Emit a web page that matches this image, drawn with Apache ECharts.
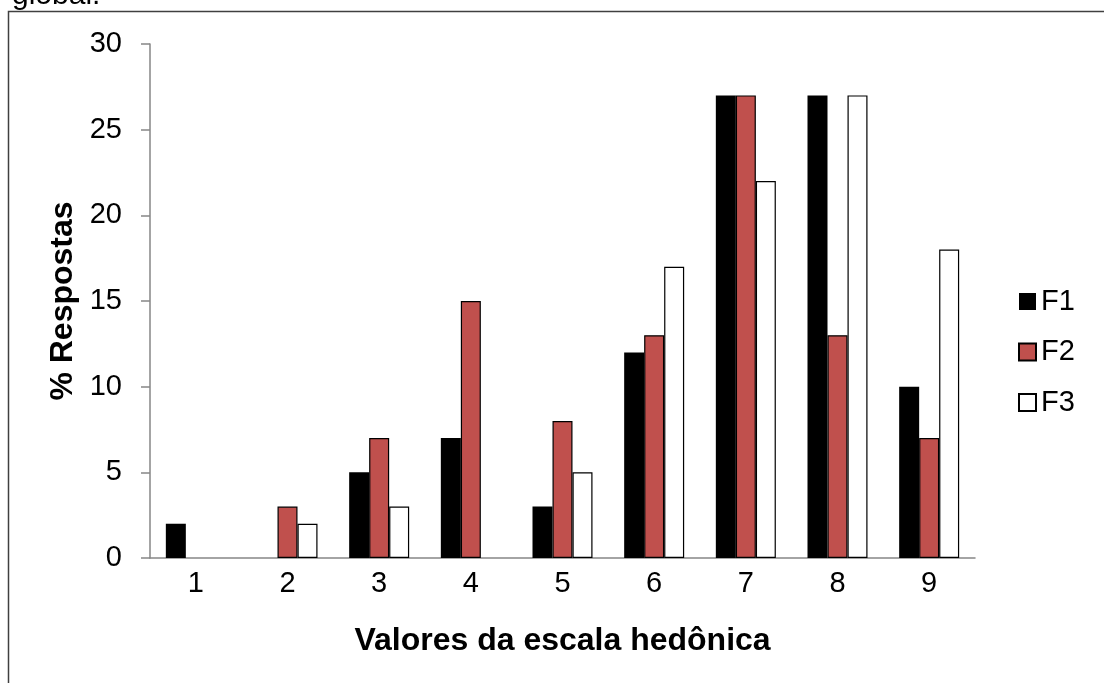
<!DOCTYPE html>
<html>
<head>
<meta charset="utf-8">
<script src="https://cdn.jsdelivr.net/npm/echarts@6/dist/echarts.min.js"></script>
<style>
  html, body { margin: 0; padding: 0; background: #fff; }
  #chart { width: 1104px; height: 683px; }
</style>
</head>
<body>
<div id="chart"></div>
<script>
// Hedonic scale values (1 to 9) and share of responses per formulation
const categories = ['1', '2', '3', '4', '5', '6', '7', '8', '9'];
const f1 = [2, 0, 5, 7, 3, 12, 27, 27, 10];
const f2 = [0, 3, 7, 15, 8, 13, 27, 13, 7];
const f3 = [0, 2, 3, 0, 5, 17, 22, 27, 18];
const yTicks = { min: 0, max: 30, interval: 5 };

const FONT = '"Liberation Sans", Arial, Helvetica, sans-serif';
const AXIS_GRAY = '#868686';

const chart = echarts.init(document.getElementById('chart'), null, { renderer: 'canvas' });

// Empty categories get no outline, so a zero share leaves no mark
function barItems(values) {
  return values.map(v => v === 0 ? { value: v, itemStyle: { borderWidth: 0, opacity: 0 } } : v);
}

function barSeries(name, data, fill, border) {
  return {
    name: name,
    type: 'bar',
    data: barItems(data),
    barWidth: 20,
    barGap: '0%',
    itemStyle: { color: fill, borderColor: '#000', borderWidth: border },
    emphasis: { disabled: true }
  };
}

chart.setOption({
  animation: false,
  backgroundColor: '#fff',
  textStyle: { fontFamily: FONT },
  grid: { left: 150, right: 129, top: 44, bottom: 125 },
  legend: {
    orient: 'vertical',
    left: 1013,
    top: 282,
    itemWidth: 17,
    itemHeight: 17,
    itemGap: 21.5,
    icon: 'rect',
    selectedMode: false,
    textStyle: { fontFamily: FONT, fontSize: 29, color: '#000', lineHeight: 29 },
    data: ['F1', 'F2', 'F3']
  },
  xAxis: {
    type: 'category',
    data: categories,
    name: 'Valores da escala hedônica',
    nameLocation: 'middle',
    nameGap: 67,
    nameTextStyle: { fontFamily: FONT, fontSize: 32, fontWeight: 'bold', color: '#000' },
    axisLine: { lineStyle: { color: AXIS_GRAY, width: 1.5 } },
    axisTick: { length: 9, lineStyle: { color: AXIS_GRAY, width: 1.5 } },
    axisLabel: { fontFamily: FONT, fontSize: 29, color: '#000', margin: 11 },
    splitLine: { show: false }
  },
  yAxis: {
    type: 'value',
    min: yTicks.min,
    max: yTicks.max,
    interval: yTicks.interval,
    name: '% Respostas',
    nameLocation: 'middle',
    nameRotate: 90,
    nameGap: 69,
    nameTextStyle: { fontFamily: FONT, fontSize: 32, fontWeight: 'bold', color: '#000' },
    axisLine: { show: true, lineStyle: { color: AXIS_GRAY, width: 1.5 } },
    axisTick: { show: true, length: 9, lineStyle: { color: AXIS_GRAY, width: 1.5 } },
    axisLabel: { fontFamily: FONT, fontSize: 29, color: '#000', margin: 28 },
    splitLine: { show: false }
  },
  graphic: [
    {
      type: 'rect',
      silent: true,
      shape: { x: 8.5, y: 11.5, width: 1200, height: 800 },
      style: { fill: 'none', stroke: '#404040', lineWidth: 1.5 }
    },
    {
      type: 'text',
      silent: true,
      left: 12,
      top: -19,
      style: { text: 'global.', font: '30px ' + FONT, fill: '#000' }
    }
  ],
  series: [
    barSeries('F1', f1, '#000000', 0),
    barSeries('F2', f2, '#C0504D', 1.2),
    barSeries('F3', f3, '#FFFFFF', 1.2)
  ]
});
</script>
</body>
</html>
